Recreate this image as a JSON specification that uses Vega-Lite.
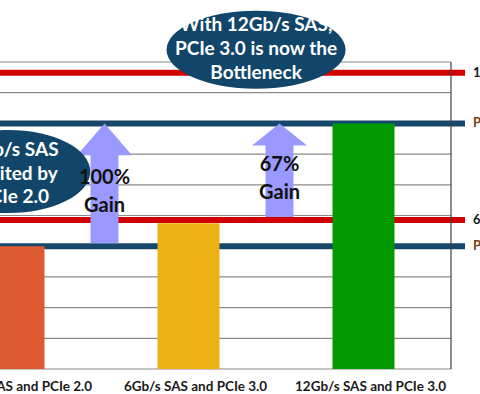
{
  "$schema": "https://vega.github.io/schema/vega-lite/v6.json",
  "width": 465,
  "height": 307,
  "autosize": {"type": "none"},
  "padding": {"left": 0, "top": 62, "right": 15, "bottom": 25},
  "background": "white",
  "config": {"view": {"stroke": null}, "font": "Lato", "axisY": {"disable": true}},
  "datasets": {
    "bars": [
      {"config": "6Gb/s SAS and PCIe 2.0", "GBps": 4.0},
      {"config": "6Gb/s SAS and PCIe 3.0", "GBps": 4.75},
      {"config": "12Gb/s SAS and PCIe 3.0", "GBps": 8.0}
    ],
    "limits": [
      {"limit": 9.65, "name": "12Gb/s SAS", "kind": "SAS"},
      {"limit": 8.0, "name": "PCIe 3.0", "kind": "PCIe"},
      {"limit": 4.85, "name": "6Gb/s SAS", "kind": "SAS"},
      {"limit": 4.0, "name": "PCIe 2.0", "kind": "PCIe"}
    ],
    "grid": [{"g": 0}, {"g": 1}, {"g": 2}, {"g": 3}, {"g": 4}, {"g": 5}, {"g": 6}, {"g": 7}, {"g": 8}, {"g": 9}, {"g": 10}],
    "gains": [
      {"gain": "100%", "label": "100%\nGain", "config": "6Gb/s SAS and PCIe 3.0", "from": 4.0, "to": 8.0},
      {"gain": "67%", "label": "67%\nGain", "config": "12Gb/s SAS and PCIe 3.0", "from": 4.85, "to": 8.0}
    ],
    "note1": [{"note": "With 12Gb/s SAS,\nPCIe 3.0 is now the\nBottleneck"}],
    "note2": [{"note": "6Gb/s SAS\nLimited by\nPCIe 2.0"}],
    "one": [{}]
  },
  "layer": [
    {
      "data": {"name": "grid"},
      "mark": {"type": "rule", "color": "#8a8a8a", "strokeWidth": 1.2},
      "encoding": {
        "y": {"field": "g", "type": "quantitative", "scale": {"domain": [0, 10]}},
        "x": {"datum": "6Gb/s SAS and PCIe 2.0", "type": "nominal", "bandPosition": 0, "title": null},
        "x2": {"datum": "12Gb/s SAS and PCIe 3.0", "bandPosition": 1}
      }
    },
    {
      "data": {"name": "limits"},
      "mark": {"type": "rule", "strokeWidth": 6},
      "encoding": {
        "y": {"field": "limit", "type": "quantitative", "scale": {"domain": [0, 10]}},
        "color": {"condition": {"test": "datum.kind === 'SAS'", "value": "#d20000"}, "value": "#17476a"}
      }
    },
    {
      "data": {"name": "bars"},
      "mark": {"type": "bar", "width": {"band": 0.354}},
      "encoding": {
        "x": {
          "field": "config", "type": "nominal", "sort": null, "title": null,
          "scale": {"type": "band", "domain": ["6Gb/s SAS and PCIe 2.0", "6Gb/s SAS and PCIe 3.0", "12Gb/s SAS and PCIe 3.0"], "range": [-74, 451], "paddingInner": 0, "paddingOuter": 0},
          "axis": {"title": null, "domain": false, "ticks": false, "grid": false, "labelAngle": 0, "labelAlign": "center", "labelBaseline": "top", "labelOffset": 7, "labelPadding": 10, "labelFontSize": 13.5, "labelFontWeight": "bold", "labelColor": "#1a1a1a", "labelFont": "Lato", "labelOverlap": false, "labelBound": false}
        },
        "y": {"field": "GBps", "type": "quantitative", "scale": {"domain": [0, 10]}},
        "color": {"field": "config", "type": "nominal", "scale": {"domain": ["6Gb/s SAS and PCIe 2.0", "6Gb/s SAS and PCIe 3.0", "12Gb/s SAS and PCIe 3.0"], "range": ["#de5b32", "#edb114", "#009a00"]}, "legend": null}
      }
    },
    {
      "data": {"name": "one"},
      "mark": {"type": "rule", "color": "#404040", "strokeWidth": 1.2},
      "encoding": {
        "x": {"datum": "12Gb/s SAS and PCIe 3.0", "type": "nominal", "bandPosition": 1, "title": null},
        "y": {"datum": 0, "scale": {"domain": [0, 10]}},
        "y2": {"datum": 10}
      }
    },
    {
      "data": {"name": "gains"},
      "mark": {"type": "rule", "strokeWidth": 28, "color": "#9999ff", "yOffset": -3, "y2Offset": 18},
      "encoding": {
        "x": {"field": "config", "type": "nominal", "bandPosition": 0.02, "title": null},
        "y": {"field": "from", "type": "quantitative", "scale": {"domain": [0, 10]}},
        "y2": {"field": "to"}
      }
    },
    {
      "data": {"name": "gains"},
      "mark": {"type": "point", "filled": true, "opacity": 1, "color": "#9999ff", "size": 3025, "strokeWidth": 0},
      "encoding": {
        "x": {"field": "config", "type": "nominal", "bandPosition": 0.02, "title": null},
        "y": {"field": "to", "type": "quantitative", "scale": {"domain": [0, 10]}},
        "shape": {"field": "gain", "type": "nominal", "scale": {"domain": ["100%", "67%"], "range": ["M0,0L1,1.16L-1,1.16Z", "M0,0L1,0.8L-1,0.8Z"]}, "legend": null}
      }
    },
    {
      "data": {"name": "note1"},
      "layer": [
        {
          "mark": {"type": "point", "filled": true, "opacity": 1, "color": "#11466a", "size": 32041, "strokeWidth": 0, "shape": "M-1,0A1,0.436,0,1,1,1,0A1,0.436,0,1,1,-1,0Z"},
          "encoding": {
            "x": {"datum": "6Gb/s SAS and PCIe 3.0", "type": "nominal", "bandPosition": 0.886, "title": null},
            "y": {"datum": 10.4, "scale": {"domain": [0, 10]}}
          }
        },
        {
          "mark": {"type": "text", "fontWeight": "bold", "fontSize": 19, "lineBreak": "\n", "lineHeight": 24, "color": "white", "baseline": "middle", "align": "center"},
          "encoding": {
            "x": {"datum": "6Gb/s SAS and PCIe 3.0", "type": "nominal", "bandPosition": 0.886, "title": null},
            "y": {"datum": 11.2, "scale": {"domain": [0, 10]}},
            "text": {"field": "note", "type": "nominal"}
          }
        }
      ]
    },
    {
      "data": {"name": "note2"},
      "layer": [
        {
          "mark": {"type": "point", "filled": true, "opacity": 1, "color": "#11466a", "size": 26896, "strokeWidth": 0, "shape": "M-1,0A1,0.506,0,1,1,1,0A1,0.506,0,1,1,-1,0Z"},
          "encoding": {
            "x": {"datum": "6Gb/s SAS and PCIe 2.0", "type": "nominal", "bandPosition": 0.47, "title": null},
            "y": {"datum": 6.43, "scale": {"domain": [0, 10]}}
          }
        },
        {
          "mark": {"type": "text", "fontWeight": "bold", "fontSize": 19, "lineBreak": "\n", "lineHeight": 23.5, "color": "white", "baseline": "middle", "align": "center"},
          "encoding": {
            "x": {"datum": "6Gb/s SAS and PCIe 2.0", "type": "nominal", "bandPosition": 0.5, "title": null},
            "y": {"datum": 7.13, "scale": {"domain": [0, 10]}},
            "text": {"field": "note", "type": "nominal"}
          }
        }
      ]
    },
    {
      "data": {"name": "gains"},
      "transform": [{"fold": ["from", "to"], "as": ["end", "v"]}],
      "mark": {"type": "text", "fontWeight": "bold", "fontSize": 20, "lineBreak": "\n", "lineHeight": 28.5, "dy": -7, "color": "#111111", "baseline": "middle", "align": "center"},
      "encoding": {
        "x": {"field": "config", "type": "nominal", "bandPosition": 0.02, "title": null},
        "y": {"aggregate": "mean", "field": "v", "type": "quantitative", "scale": {"domain": [0, 10]}},
        "text": {"field": "label", "type": "nominal"}
      }
    },
    {
      "data": {"name": "limits"},
      "mark": {"type": "text", "align": "left", "baseline": "middle", "fontWeight": "bold", "fontSize": 13},
      "encoding": {
        "x": {"datum": "12Gb/s SAS and PCIe 3.0", "type": "nominal", "bandPosition": 1.126, "title": null},
        "y": {"field": "limit", "type": "quantitative", "scale": {"domain": [0, 10]}},
        "text": {"field": "name", "type": "nominal"},
        "color": {"condition": {"test": "datum.kind === 'SAS'", "value": "#111111"}, "value": "#7a3d12"}
      }
    }
  ]
}
